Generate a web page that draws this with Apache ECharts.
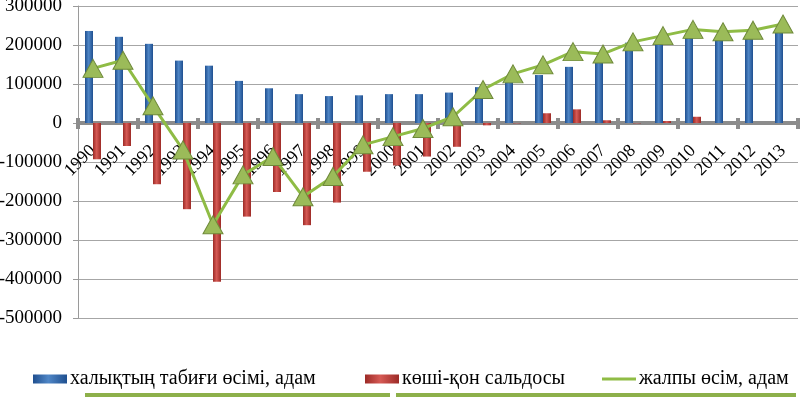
<!DOCTYPE html>
<html>
<head>
<meta charset="utf-8">
<script src="https://cdn.jsdelivr.net/npm/echarts@6/dist/echarts.min.js"></script>
<style>
    html, body { margin: 0; padding: 0; background: #fff; }
    #chart { width: 800px; height: 397px; }
</style>
</head>
<body>
<div id="chart"></div>
<script>
var years = ['1990', '1991', '1992', '1993', '1994', '1995', '1996', '1997', '1998', '1999', '2000', '2001',
    '2002', '2003', '2004', '2005', '2006', '2007', '2008', '2009', '2010', '2011', '2012', '2013'];

// халықтың табиғи өсімі, адам
var natural = [236000, 221000, 203000, 160000, 147000, 108000, 89000, 74000, 69000, 71000, 74000, 74000,
    78000, 92000, 106000, 123000, 144000, 157000, 206000, 206000, 221000, 218000, 221000, 234000];

// көші-қон сальдосы
var migration = [-93000, -59000, -157000, -221000, -407000, -240000, -177000, -262000, -204000, -125000, -109000, -86000,
    -61000, -6000, -1000, 25000, 35000, 7000, -1000, 5000, 16000, 0, 0, 0];

// жалпы өсім, адам
var total = [140000, 161000, 44000, -69000, -261000, -133000, -86000, -189000, -137000, -56000, -35000, -14000,
    16000, 86000, 126000, 149000, 183000, 177000, 208000, 224000, 240000, 234000, 238000, 254000];

var names = ['халықтың табиғи өсімі, адам', 'көші-қон сальдосы', 'жалпы өсім, адам'];

var serif = '"Liberation Serif", "DejaVu Serif", serif';

// zero line sits 195px above the bottom of the grid
var zeroOffset = -195;

function barGradient(light, dark) {
    return new echarts.graphic.LinearGradient(0, 0, 1, 0, [
        { offset: 0, color: dark },
        { offset: 0.45, color: light },
        { offset: 1, color: dark }
    ]);
}

function legendItem(item, left, h) {
    return {
        data: [item],
        left: left,
        top: 364,
        itemWidth: 34,
        itemHeight: h,
        itemGap: 0,
        textStyle: { fontSize: 20, color: '#000', fontFamily: serif, padding: [0, 0, 0, -2] }
    };
}

var chart = echarts.init(document.getElementById('chart'));

chart.setOption({
    animation: false,
    textStyle: { fontFamily: serif },
    legend: [
        legendItem({ name: names[0], icon: 'rect' }, 28, 9),
        legendItem({ name: names[1], icon: 'rect' }, 360, 9),
        legendItem({ name: names[2], icon: 'rect', itemStyle: { color: '#8fbc45', borderWidth: 0 } }, 597, 3)
    ],
    grid: {
        left: 78,
        right: 2,
        top: 6,
        bottom: 79,
        containLabel: false,
        outerBoundsMode: 'none'
    },
    xAxis: [
        {
            type: 'category',
            data: years,
            axisLine: { onZero: true, lineStyle: { color: '#8c8c8c', width: 4 } },
            axisTick: { show: true, length: 6, lineStyle: { color: '#8c8c8c', width: 4 } },
            axisLabel: { show: false }
        },
        {
            // upper half of the tick marks on the zero line
            type: 'category',
            data: years,
            position: 'bottom',
            offset: zeroOffset,
            axisLine: { onZero: false, show: false },
            axisTick: { show: true, inside: true, length: 5, lineStyle: { color: '#8c8c8c', width: 4 } },
            axisLabel: { show: false }
        },
        {
            // year labels just under the zero line
            type: 'category',
            data: years,
            position: 'bottom',
            offset: zeroOffset,
            axisLine: { onZero: false, show: false },
            axisTick: { show: false },
            axisLabel: { rotate: 45, margin: 25, fontSize: 18, color: '#000', fontFamily: serif, interval: 0 }
        }
    ],
    yAxis: {
        type: 'value',
        min: -500000,
        max: 300000,
        interval: 100000,
        axisLine: { show: true, lineStyle: { color: '#9a9a9a', width: 1 } },
        axisTick: { show: true, length: 5, lineStyle: { color: '#9a9a9a' } },
        axisLabel: {
            fontSize: 19, color: '#000', fontFamily: serif, margin: 16,
            formatter: function (v) { return String(v); }
        },
        splitLine: { lineStyle: { color: '#a6a6a6', width: 1 } }
    },
    series: [
        {
            name: names[0],
            type: 'bar',
            barWidth: 8,
            barGap: '0%',
            itemStyle: { color: barGradient('#4f86c6', '#1f4f8f') },
            data: natural
        },
        {
            name: names[1],
            type: 'bar',
            barWidth: 8,
            barGap: '0%',
            itemStyle: { color: barGradient('#d65a55', '#9c2a26') },
            data: migration
        },
        {
            name: names[2],
            type: 'line',
            symbol: 'triangle',
            symbolSize: [20, 18],
            lineStyle: { color: '#8fbc45', width: 3 },
            itemStyle: { color: '#9bbb59', borderColor: '#6f8a3a', borderWidth: 1 },
            z: 5,
            data: total
        }
    ],
    graphic: [
        { type: 'rect', left: 85, top: 393, shape: { width: 305, height: 4 }, style: { fill: '#8db04a' } },
        { type: 'rect', left: 396, top: 393, shape: { width: 400, height: 4 }, style: { fill: '#8db04a' } }
    ]
});

window.addEventListener('resize', function () {
    chart.resize();
});
</script>
</body>
</html>
